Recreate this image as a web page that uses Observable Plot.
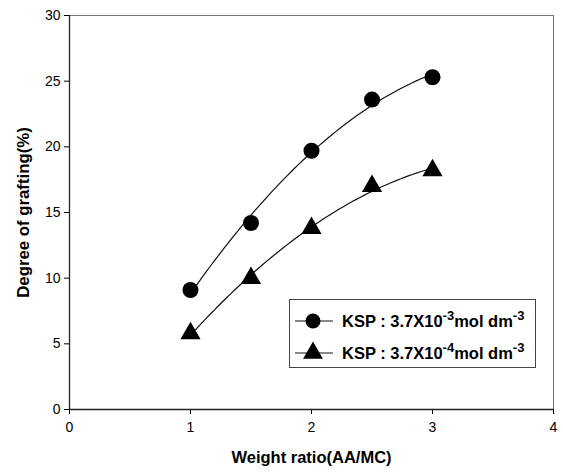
<!DOCTYPE html>
<html><head><meta charset="utf-8">
<script src="https://cdn.jsdelivr.net/npm/d3@7"></script>
<script src="https://cdn.jsdelivr.net/npm/@observablehq/plot@0.6"></script>
<style>
body{margin:0;background:#fff;}
#wrap{position:relative;width:563px;height:475px;font-family:"Liberation Sans",Arial,sans-serif;}
#wrap svg.plot text{font-family:"Liberation Sans",Arial,sans-serif;}
g[aria-label="y-axis label"] text{font-weight:bold;font-size:16.8px;}
g[aria-label="x-axis label"] text{font-weight:bold;font-size:16.5px;}
g[aria-label="y-axis tick label"] text, g[aria-label="x-axis tick label"] text{font-size:14px;}
#legend{position:absolute;left:289px;top:299px;}
</style></head>
<body><div id="wrap"></div>
<script>
const ratios = [1, 1.5, 2, 2.5, 3];
const ksp3 = [9.1, 14.2, 19.7, 23.6, 25.3];
const ksp4 = [5.8, 10.0, 13.8, 17.0, 18.2];
const xTicks = [0, 1, 2, 3, 4];
const yTicks = [0, 5, 10, 15, 20, 25, 30];

const d1 = ratios.map((x, i) => ({x, y: ksp3[i]}));
const d2 = ratios.map((x, i) => ({x, y: ksp4[i]}));

// curve factory: least-squares quadratic trend line through the given (scaled) points
function quadFit(context) {
  let pts = [];
  return {
    areaStart() {}, areaEnd() {},
    lineStart() { pts = []; },
    point(x, y) { pts.push([+x, +y]); },
    lineEnd() {
      const n = pts.length;
      if (n < 3) { pts.forEach((p, i) => i ? context.lineTo(p[0], p[1]) : context.moveTo(p[0], p[1])); return; }
      const mx = d3.mean(pts, p => p[0]);
      let s = [0,0,0,0,0], t = [0,0,0];
      for (const [x0, y] of pts) {
        const x = x0 - mx;
        s[0] += 1; s[1] += x; s[2] += x*x; s[3] += x*x*x; s[4] += x*x*x*x;
        t[0] += y; t[1] += x*y; t[2] += x*x*y;
      }
      const A = [[s[0],s[1],s[2],t[0]],[s[1],s[2],s[3],t[1]],[s[2],s[3],s[4],t[2]]];
      for (let i = 0; i < 3; i++) {
        for (let k = i + 1; k < 3; k++) {
          const f = A[k][i] / A[i][i];
          for (let j = i; j < 4; j++) A[k][j] -= f * A[i][j];
        }
      }
      const c = [0,0,0];
      for (let i = 2; i >= 0; i--) {
        let v = A[i][3];
        for (let j = i + 1; j < 3; j++) v -= A[i][j] * c[j];
        c[i] = v / A[i][i];
      }
      const x0 = d3.min(pts, p => p[0]), x1 = d3.max(pts, p => p[0]);
      const steps = 60;
      for (let i = 0; i <= steps; i++) {
        const x = x0 + (x1 - x0) * i / steps, u = x - mx;
        const y = c[0] + c[1]*u + c[2]*u*u;
        i ? context.lineTo(x, y) : context.moveTo(x, y);
      }
    }
  };
}

const chart = Plot.plot({
  width: 563, height: 475,
  marginLeft: 69, marginTop: 15, marginRight: 10, marginBottom: 66,
  x: {domain: [0, 4]},
  y: {domain: [0, 30]},
  marks: [
    Plot.frame({stroke: "#777", strokeWidth: 1}),
    Plot.ruleX([0], {stroke: "#222", strokeWidth: 1.3}),
    Plot.ruleY([0], {stroke: "#222", strokeWidth: 1.3}),
    Plot.axisX({ticks: xTicks, tickSize: 5, tickPadding: 8, label: "Weight ratio(AA/MC)", labelAnchor: "center", labelArrow: "none", labelOffset: 53, tickFormat: d3.format("d")}),
    Plot.axisY({ticks: yTicks, tickSize: 5, tickPadding: 4, label: "Degree of grafting(%)", labelAnchor: "center", labelArrow: "none", labelOffset: 52, tickFormat: d3.format("d")}),
    Plot.line(d1, {x: "x", y: "y", curve: quadFit, stroke: "#111", strokeWidth: 1.2}),
    Plot.line(d2, {x: "x", y: "y", curve: quadFit, stroke: "#111", strokeWidth: 1.2}),
    Plot.dot(d1, {x: "x", y: "y", r: 8, fill: "#000", symbol: "circle"}),
    Plot.dot(d2, {x: "x", y: "y", r: 7.5, fill: "#000", symbol: "triangle"})
  ]
});
chart.classList.add("plot");
const wrap = document.getElementById("wrap");
wrap.appendChild(chart);

// legend
const legend = document.createElement("div");
legend.id = "legend";
const rows = [
  {sym: "circle", base: "KSP : 3.7X10", e1: "-3", mid: "mol dm", e2: "-3"},
  {sym: "triangle", base: "KSP : 3.7X10", e1: "-4", mid: "mol dm", e2: "-3"}
];
const ns = "http://www.w3.org/2000/svg";
const svg = document.createElementNS(ns, "svg");
svg.setAttribute("width", 248); svg.setAttribute("height", 70);
svg.innerHTML = `<rect x="0.5" y="0.5" width="246" height="68" fill="#fff" stroke="#444" stroke-width="1"/>` +
  rows.map((r, i) => {
    const cy = 22 + i * 32;
    const marker = r.sym === "circle"
      ? `<circle cx="24" cy="${cy}" r="7.5" fill="#000"/>`
      : `<path d="${d3.symbol(d3.symbolTriangle, 170)()}" transform="translate(24,${cy})" fill="#000"/>`;
    return `<line x1="6" x2="44" y1="${cy}" y2="${cy}" stroke="#111" stroke-width="1.2"/>` + marker +
      `<text x="53" y="${cy + 6}" font-family="Liberation Sans, Arial, sans-serif" font-weight="bold" font-size="16.5">${r.base}<tspan dy="-7" font-size="13">${r.e1}</tspan><tspan dy="7">${r.mid}</tspan><tspan dy="-7" font-size="13">${r.e2}</tspan></text>`;
  }).join("");
legend.appendChild(svg);
wrap.appendChild(legend);
</script>
</body></html>
